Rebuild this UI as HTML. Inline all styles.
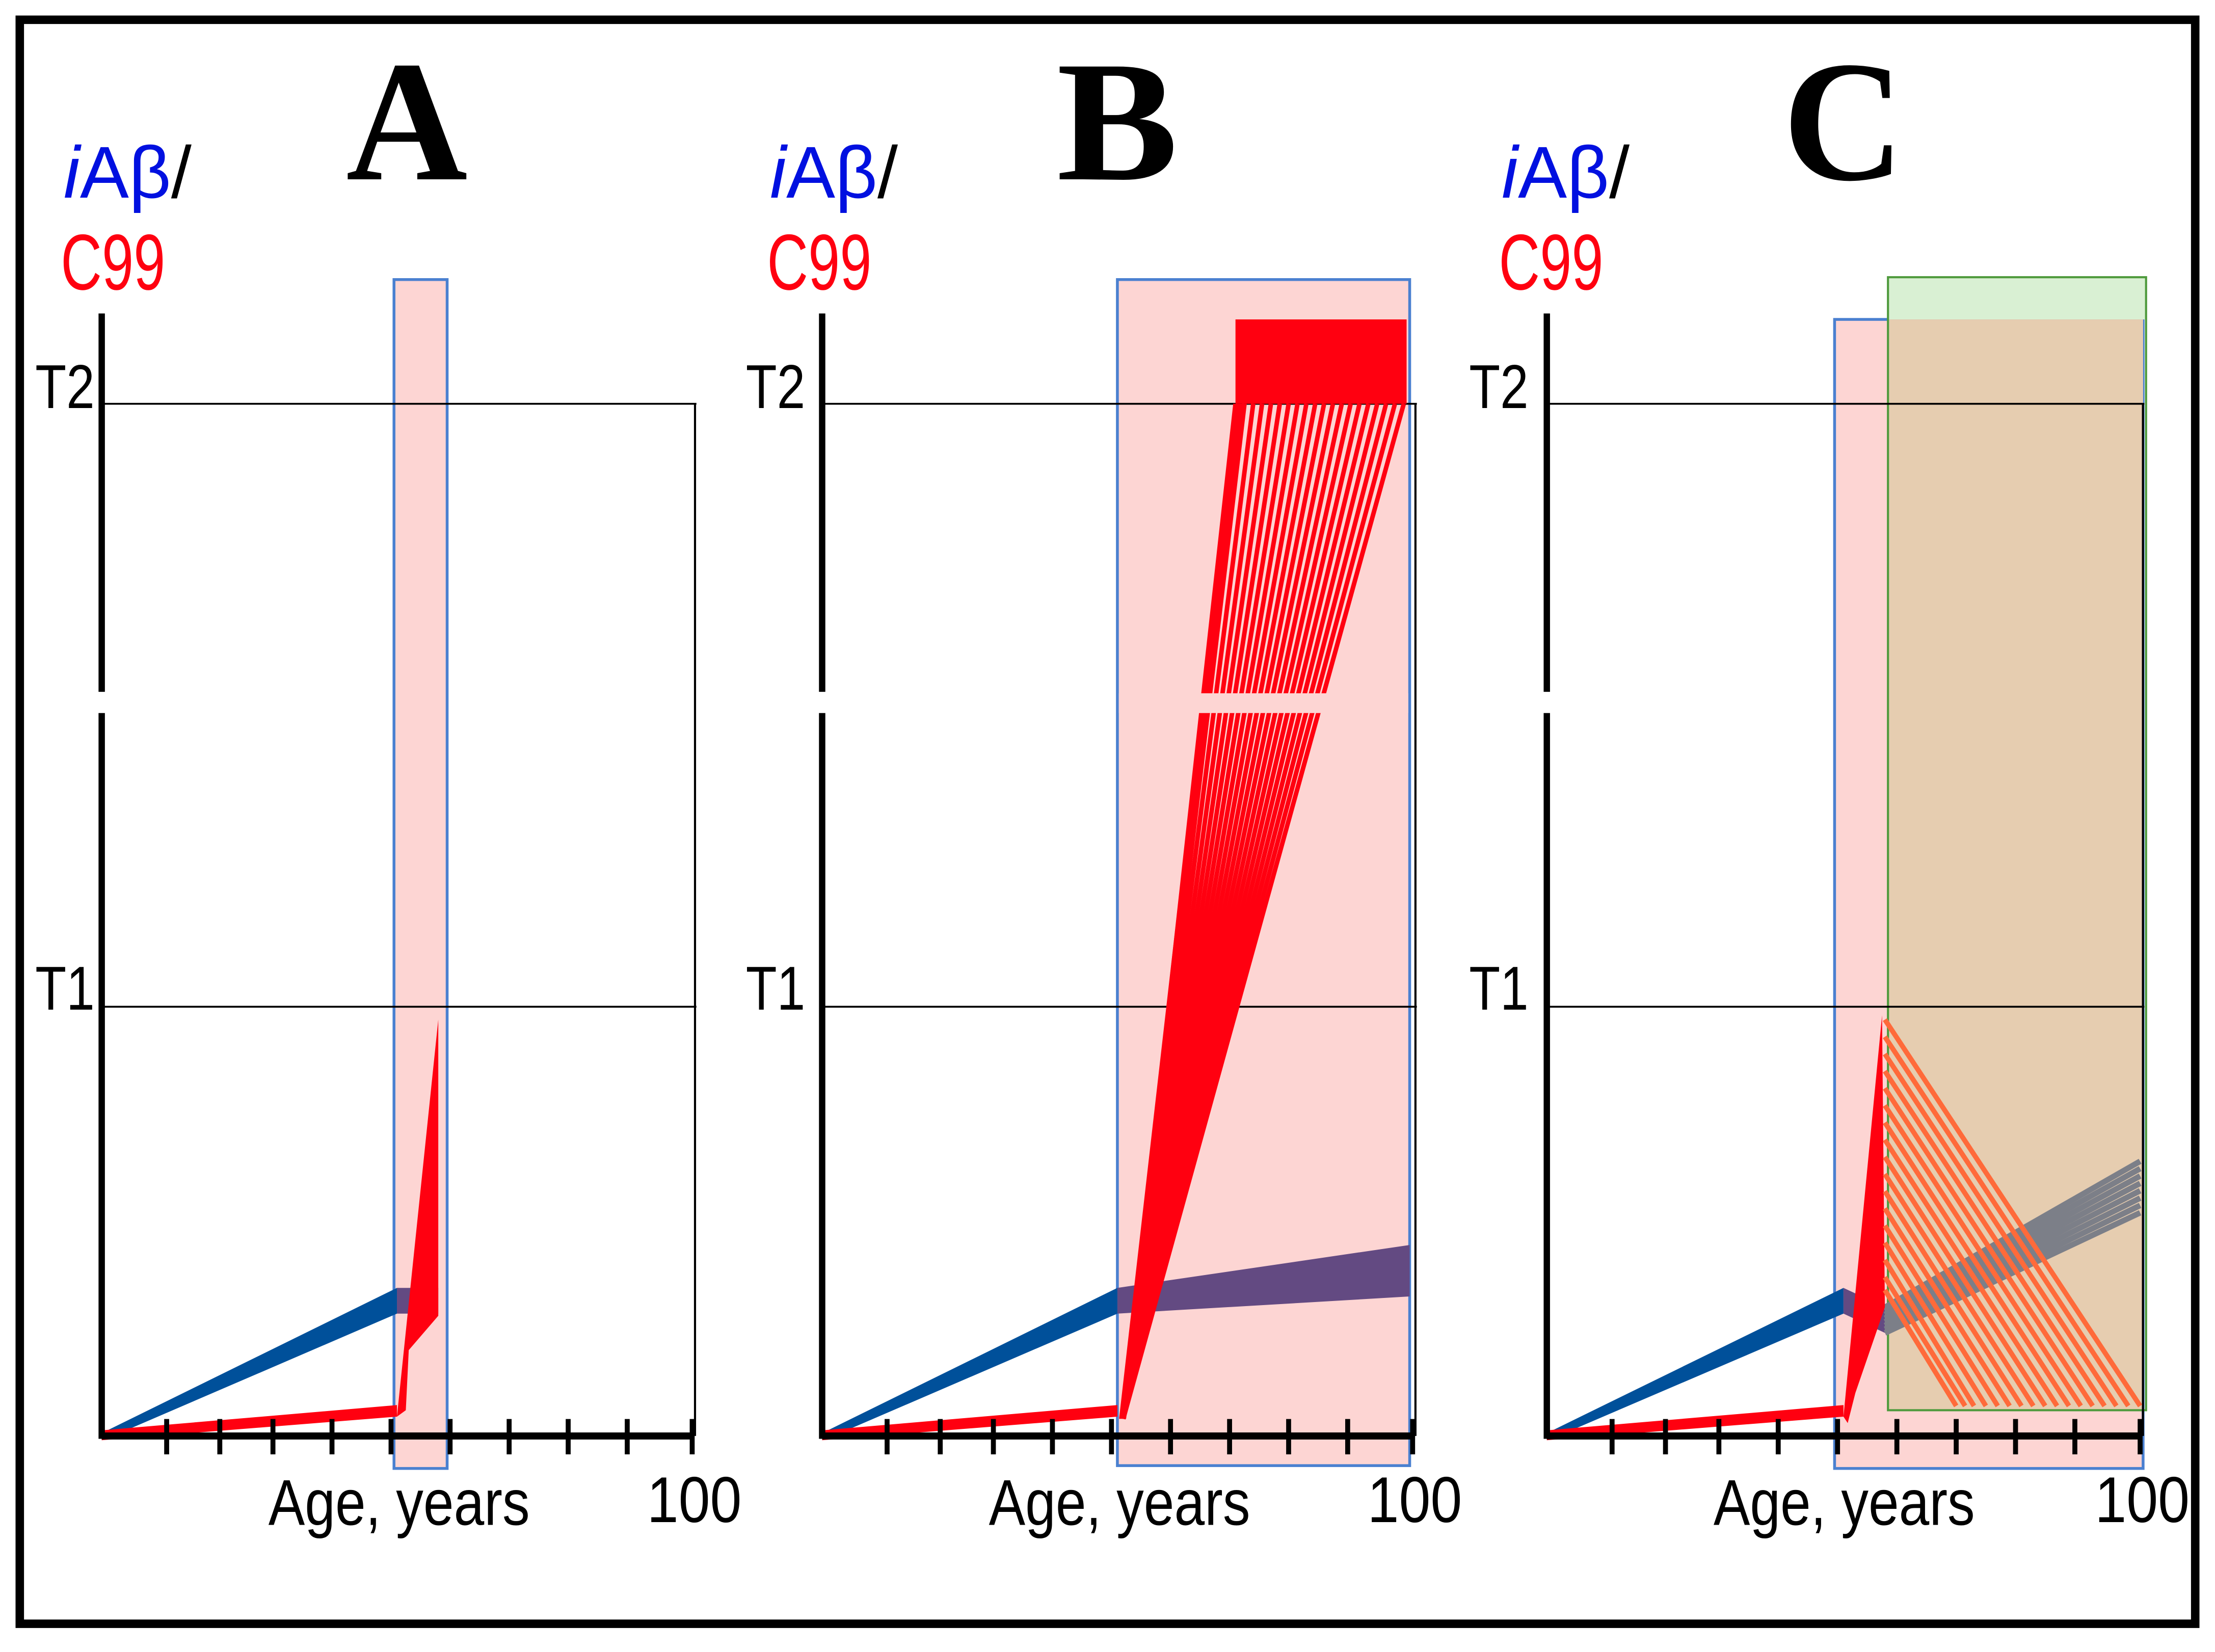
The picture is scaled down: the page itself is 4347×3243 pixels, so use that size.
<!DOCTYPE html>
<html><head><meta charset="utf-8">
<style>
html,body{margin:0;padding:0;background:#fff;}
svg{display:block;}
</style></head>
<body>
<svg id="chart" width="4347" height="3243" viewBox="0 0 1568 1170" preserveAspectRatio="none" xmlns="http://www.w3.org/2000/svg" font-family="Liberation Sans, sans-serif">
<rect x="14" y="14" width="1540" height="1136" fill="#fff" stroke="#000" stroke-width="6"/>
</svg>
<script>
// ---- data ----
const tickAges = [11, 20, 29, 39, 49, 59, 69, 79, 89, 100];
const thresholdLabels = ["T1", "T2"];
const thresholdValues = [1, 2];
const panelTitles = ["A", "B", "C"];
// blue iAβ fan: end values at age 50 (upper, lower)
const blueEndAge = 50;
const blueEndVals = [0.345, 0.285];
// red C99 pre-band: end values at age 50
const redPreVals = [0.072, 0.045];
// Panel A
const aBand = [49.5, 58.5];
const aPurpleEnd = [57, 0.345, 0.285];
const aSpikeTop = [57, 0.97];
const aSpikeBottom = [57, 0.28];
// Panel B
const bBand = [50, 99.5];
const bFanStart = [51, 0.04];
const bFanEndAges = [70, 71.5, 73, 74.5, 76, 77.5, 79, 80.5, 82, 83.5, 85, 86.5, 88, 89.5, 91, 92.5, 94, 95.5, 97, 98.5];
const bBlockTop = 2.14;
const bPurpleEnd = [99.5, 0.445, 0.325];
// Panel C
const cPinkBand = [48.5, 100.5, 2.14];
const cGreenBand = [57.5, 101, 2.21, 0.06];
const cSpikeTop = [56.5, 0.98];
const cOrangeStartVals = [0.97, 0.93, 0.89, 0.85, 0.81, 0.77, 0.73, 0.69, 0.65, 0.61, 0.57, 0.53, 0.49, 0.45, 0.41, 0.37, 0.34];
const cOrangeEndAges = [100, 98, 96, 94, 92, 90, 88, 86, 84, 82, 80, 78, 76, 74, 72, 70.5, 69];
const cOrangeEndVal = 0.07;
const cGrayStart = [57, 0.3, 0.24];
const cGrayEnd = [100, 0.64, 0.52];

const panels = [
  {x0: 72, x1: 490, title: 245, lab: 45, tl: 25},
  {x0: 582, x1: 1000, title: 748, lab: 545, tl: 528},
  {x0: 1095, x1: 1515, title: 1262, lab: 1063, tl: 1040}
];
const NS = "http://www.w3.org/2000/svg";
const svg = document.getElementById('chart');
function yv(v){ return v <= 1 ? 1017 - 304 * v : 713 - 427 * (v - 1); }
function mk(tag, attrs, parent){
  const e = document.createElementNS(NS, tag);
  for (const k in attrs) e.setAttribute(k, attrs[k]);
  (parent || svg).appendChild(e); return e;
}
function poly(pts, fill, name, g){
  const e = mk('polygon', {points: pts.map(p => p.join(',')).join(' '), fill: fill}, g);
  
  
  return e;
}
function line(x1,y1,x2,y2,stroke,w,name,g){
  const e = mk('line',{x1:x1,y1:y1,x2:x2,y2:y2,stroke:stroke,'stroke-width':w},g);
  
  
  return e;
}
function txt(x,y,s,attrs,name,g){
  const e = mk('text',Object.assign({x:x,y:y},attrs),g);
  e.textContent = s;
  
  
  return e;
}

panels.forEach((P, i) => {
  const g = mk('g', {});
  
  
  const xa = a => P.x0 + (P.x1 - P.x0) * a / 100;
  const base = yv(0);

  if (i === 0) {
    const r = mk('rect',{x:xa(aBand[0]),y:198,width:xa(aBand[1])-xa(aBand[0]),height:842,fill:'#fdd5d3',stroke:'#4a80d0','stroke-width':2},g);
     
  } else if (i === 1) {
    const r = mk('rect',{x:xa(bBand[0]),y:198,width:xa(bBand[1])-xa(bBand[0]),height:840,fill:'#fdd5d3',stroke:'#4a80d0','stroke-width':2},g);
     
  } else {
    const r = mk('rect',{x:xa(cPinkBand[0]),y:yv(cPinkBand[2]),width:xa(cPinkBand[1])-xa(cPinkBand[0]),height:1040-yv(cPinkBand[2]),fill:'#fdd5d3',stroke:'#4a80d0','stroke-width':2},g);
     
    const gx = xa(cGreenBand[0]), gw = xa(cGreenBand[1]) - gx, gy = yv(cGreenBand[2]), gb = yv(cGreenBand[3]);
    const r2 = mk('rect',{x:gx,y:gy,width:gw,height:yv(cPinkBand[2])-gy,fill:'#d9f0d3'},g);
     
    const r3 = mk('rect',{x:gx,y:yv(cPinkBand[2]),width:xa(cPinkBand[1])-gx,height:gb-yv(cPinkBand[2]),fill:'#e6cdb0'},g);
     
    const r4 = mk('rect',{x:gx,y:gy,width:gw,height:gb-gy,fill:'none',stroke:'#4e9a3c','stroke-width':1.5},g);
     
  }

  thresholdValues.forEach((v, k) => {
    line(P.x0, yv(v), P.x1 + 3, yv(v), '#000', 1.3, 'threshold-line-' + thresholdLabels[k].toLowerCase(), g);
    txt(P.tl, yv(v) + (k===1?3:2), thresholdLabels[k], {'font-size':44,fill:'#000',textLength:42,lengthAdjust:'spacingAndGlyphs'}, 'threshold-label-' + thresholdLabels[k].toLowerCase(), g);
  });
  line(P.x1 + 2, yv(2), P.x1 + 2, base, '#000', 1.5, 'right-border', g);

  const bx = xa(blueEndAge);
  poly([[P.x0, base-2],[bx, yv(blueEndVals[0])],[bx, yv(blueEndVals[1])],[P.x0+8, base]], '#00509a', 'iab-fan', g);
  poly([[P.x0, base-4],[bx, yv(redPreVals[0])],[bx, yv(redPreVals[1])],[P.x0, base+3]], '#ff0010', 'c99-pre-fan', g);

  if (i === 0) {
    const pe = xa(aPurpleEnd[0]);
    poly([[bx, yv(aPurpleEnd[1])],[pe, yv(aPurpleEnd[1])],[pe, yv(aPurpleEnd[2])],[bx, yv(aPurpleEnd[2])]], '#634a82', 'iab-purple', g);
    const sx = xa(aSpikeTop[0]);
    poly([[bx, yv(redPreVals[1])],[sx, yv(aSpikeTop[1])],[sx, yv(aSpikeBottom[1])],[xa(52), yv(0.2)],[xa(51.5), yv(0.06)]], '#ff0010', 'c99-spike', g);
  } else if (i === 1) {
    const pe = xa(bPurpleEnd[0]);
    poly([[bx, yv(blueEndVals[0])],[pe, yv(bPurpleEnd[1])],[pe, yv(bPurpleEnd[2])],[bx, yv(blueEndVals[1])]], '#634a82', 'iab-purple-fan', g);
    const sx = xa(bFanStart[0]), sy = yv(bFanStart[1]);
    bFanEndAges.forEach((a, k) => {
      line(sx, sy, xa(a), yv(2), '#ff0010', 3.2, 'c99-fan-line', g);
    });
    poly([[sx - 3, sy],[xa(bFanEndAges[0]), yv(2)],[xa(bFanEndAges[0])+8, yv(2)],[sx+2, sy]], '#ff0010', 'c99-fan-edge', g);
    const blk = mk('rect',{x:xa(bFanEndAges[0]),y:yv(bBlockTop),width:xa(bFanEndAges[bFanEndAges.length-1])-xa(bFanEndAges[0])+2,height:yv(2)-yv(bBlockTop),fill:'#ff0010'},g);
     
    const gap = mk('rect',{x:xa(bBand[0])+1,y:491,width:xa(bBand[1])-xa(bBand[0])-2,height:14,fill:'#fdd5d3'},g);
     
  } else {
    const s0 = xa(cGrayStart[0]), s1 = xa(cGrayEnd[0]);
    poly([[bx, yv(blueEndVals[0])],[s0, yv(cGrayStart[1])],[s0, yv(cGrayStart[2])],[bx, yv(blueEndVals[1])]], '#634a82', 'iab-purple', g);
    for (let k = 0; k < 8; k++) {
      const f = k / 7;
      line(s0, yv(cGrayStart[1] + (cGrayStart[2]-cGrayStart[1])*f), s1, yv(cGrayEnd[1] + (cGrayEnd[2]-cGrayEnd[1])*f), '#7c7f88', 4, 'iab-gray-line', g);
    }
    const sx = xa(cSpikeTop[0]);
    poly([[bx, yv(redPreVals[1])],[sx, yv(cSpikeTop[1])],[sx+2, yv(0.3)],[xa(52), yv(0.1)],[bx+3, yv(0.03)]], '#ff0010', 'c99-spike', g);
    cOrangeStartVals.forEach((v, k) => {
      line(sx + 2, yv(v), xa(cOrangeEndAges[k]), yv(cOrangeEndVal), '#ff6a3a', 3.5, 'c99-decline-line', g);
    });
  }

  line(P.x0, 222, P.x0, 490, '#000', 4.5, 'y-axis-upper', g);
  line(P.x0, 505, P.x0, base + 2, '#000', 4.5, 'y-axis-lower', g);
  line(P.x0, base, P.x1, base, '#000', 5, 'x-axis', g);
  tickAges.forEach(a => line(xa(a), base - 12, xa(a), base + 13, '#000', 3.5, 'x-tick', g));

  txt(P.x0 + 118, 1080, 'Age, years', {'font-size':46,fill:'#000',textLength:185,lengthAdjust:'spacingAndGlyphs'}, 'x-axis-title', g);
  txt(P.x1 - 32, 1078, '100', {'font-size':46,fill:'#000',textLength:67,lengthAdjust:'spacingAndGlyphs'}, 'x-max-label', g);
  const t1 = txt(P.lab, 140, '', {'font-size':52}, 'y-axis-title-iab', g);
  const s1 = mk('tspan',{fill:'#0010e0','font-style':'italic'},t1); s1.textContent='i';
  const s2 = mk('tspan',{fill:'#0010e0'},t1); s2.textContent='Aβ';
  const s3 = mk('tspan',{fill:'#000'},t1); s3.textContent='/';
  txt(P.lab - 2, 205, 'C99', {'font-size':56,fill:'#ff0010',textLength:74,lengthAdjust:'spacingAndGlyphs'}, 'y-axis-title-c99', g);
  txt(P.title, 127, panelTitles[i], {'font-size':122,'font-weight':'bold','font-family':'Liberation Serif, serif',style:'font-family:"Liberation Serif",serif',fill:'#000',textLength:86,lengthAdjust:'spacingAndGlyphs'}, 'panel-title', g);
});
</script>
</body></html>
